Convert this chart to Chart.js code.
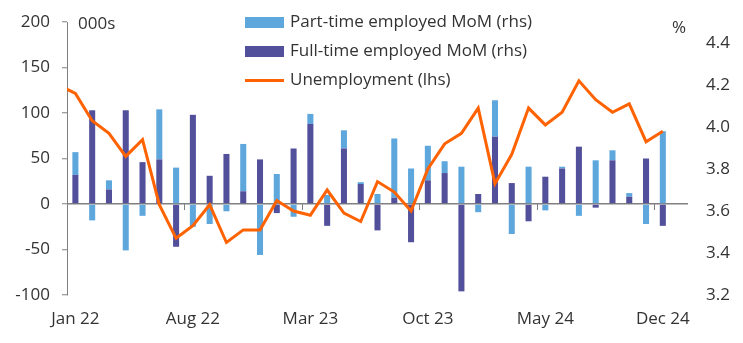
<!DOCTYPE html>
<html>
<head>
<meta charset="utf-8">
<script src="https://cdn.jsdelivr.net/npm/chart.js@4/dist/chart.umd.min.js"></script>
<style>
  html, body { margin: 0; padding: 0; background: #fff; }
  #wrap { position: relative; width: 743px; height: 343px; font-family: "Open Sans", sans-serif; color: #333; }
  canvas { position: absolute; left: 0; top: 0; }
  .t { position: absolute; font-size: 17px; line-height: 20px; white-space: nowrap; }
  .box { position: absolute; width: 39px; height: 11px; }
  .ln { position: absolute; width: 39px; height: 3px; }
</style>
</head>
<body>
<div id="wrap">
  <canvas id="c" width="743" height="343"></canvas>
  <div class="t" style="left:78px; top:13px;">000s</div>
  <div class="t" style="left:672px; top:17px;">%</div>
  <div class="box" style="left:245px; top:17px; background:#5EA7DD;"></div>
  <div class="t" style="left:290px; top:11px;">Part-time employed MoM (rhs)</div>
  <div class="box" style="left:245px; top:46px; background:#524F9B;"></div>
  <div class="t" style="left:290px; top:40px;">Full-time employed MoM (rhs)</div>
  <div class="ln" style="left:245px; top:79px; background:#FF6200;"></div>
  <div class="t" style="left:290px; top:69px;">Unemployment (lhs)</div>
</div>
<script>
// Categories (Dec 21 is a lead-in point for the line only; Jan 25 is an empty slot)
const months = ['Dec 21',
  'Jan 22','Feb 22','Mar 22','Apr 22','May 22','Jun 22','Jul 22','Aug 22','Sep 22','Oct 22','Nov 22','Dec 22',
  'Jan 23','Feb 23','Mar 23','Apr 23','May 23','Jun 23','Jul 23','Aug 23','Sep 23','Oct 23','Nov 23','Dec 23',
  'Jan 24','Feb 24','Mar 24','Apr 24','May 24','Jun 24','Jul 24','Aug 24','Sep 24','Oct 24','Nov 24','Dec 24',
  'Jan 25'];

// Part-time employed MoM (000s)
const partTime = [null,
  25, -18, 10, -51, -13, 55, 40, -25, -22, -8, 52, -56,
  33, -14, 11, 10, 20, 2, 11, 65, 39, 38, 13, 41,
  -9, 40, -33, 41, -7, 2, -13, 48, 11, 4, -22, 80,
  null];

// Full-time employed MoM (000s)
const fullTime = [null,
  32, 103, 16, 103, 46, 49, -47, 98, 31, 55, 14, 49,
  -10, 61, 88, -24, 61, 22, -29, 7, -42, 26, 34, -96,
  11, 74, 23, -19, 30, 39, 63, -4, 48, 8, 50, -24,
  null];

// Unemployment rate (%)
const unemployment = [4.2,
  4.16, 4.03, 3.97, 3.86, 3.94, 3.63, 3.47, 3.53, 3.63, 3.45, 3.51, 3.51,
  3.65, 3.60, 3.58, 3.70, 3.59, 3.55, 3.74, 3.69, 3.60, 3.80, 3.92, 3.97,
  4.09, 3.73, 3.87, 4.09, 4.01, 4.07, 4.22, 4.13, 4.07, 4.11, 3.93, 3.98,
  null];

// Tick labels
const leftTicks = [-100, -50, 0, 50, 100, 150, 200];
const rightTicks = [3.2, 3.4, 3.6, 3.8, 4.0, 4.2, 4.4];
const xLabelEvery = 7;

const GREY = '#808080';
const TEXT = '#333333';

const xTickMarks = {
  id: 'xTickMarks',
  afterDatasetsDraw(chart) {
    const xs = chart.scales.x, ys = chart.scales.y;
    const y0 = ys.getPixelForValue(0);
    const ctx = chart.ctx;
    ctx.save();
    ctx.strokeStyle = GREY;
    ctx.lineWidth = 1;
    for (let i = xs.min + 1; i <= xs.max; i++) {
      if ((i - xs.min) % xLabelEvery === 0) {
        const px = Math.round((xs.getPixelForValue(i - 1) + xs.getPixelForValue(i)) / 2) + 0.5;
        ctx.beginPath();
        ctx.moveTo(px, y0);
        ctx.lineTo(px, y0 + 6);
        ctx.stroke();
      }
    }
    ctx.restore();
  }
};

Chart.defaults.font.family = '"Open Sans", sans-serif';
Chart.defaults.font.size = 17;
Chart.defaults.color = TEXT;

new Chart(document.getElementById('c'), {
  type: 'bar',
  data: {
    labels: months,
    datasets: [
      {
        type: 'line',
        label: 'Unemployment (lhs)',
        data: unemployment,
        yAxisID: 'y1',
        borderColor: '#FF6200',
        backgroundColor: '#FF6200',
        borderWidth: 3,
        pointRadius: 0,
        tension: 0,
        clip: 0
      },
      {
        label: 'Full-time employed MoM (rhs)',
        data: fullTime,
        yAxisID: 'y',
        stack: 'emp',
        backgroundColor: '#524F9B',
        categoryPercentage: 1,
        barPercentage: 0.36
      },
      {
        label: 'Part-time employed MoM (rhs)',
        data: partTime,
        yAxisID: 'y',
        stack: 'emp',
        backgroundColor: '#5EA7DD',
        categoryPercentage: 1,
        barPercentage: 0.36
      }
    ]
  },
  options: {
    responsive: false,
    animation: false,
    devicePixelRatio: 1,
    layout: { padding: { top: 22, left: 0, right: 0, bottom: 0 } },
    plugins: { legend: { display: false }, tooltip: { enabled: false } },
    scales: {
      x: {
        stacked: true,
        min: 'Jan 22',
        max: 'Jan 25',
        offset: true,
        grid: { display: false, drawTicks: false },
        border: { display: false },
        ticks: {
          autoSkip: false,
          maxRotation: 0,
          padding: 14,
          callback: function (value) {
            return (value - 1) % xLabelEvery === 0 ? this.getLabelForValue(value) : '';
          }
        },
        afterFit: (s) => { s.height = 48; s.paddingLeft = 0; s.paddingRight = 0; }
      },
      y: {
        position: 'left',
        stacked: true,
        min: -100,
        max: 200,
        afterBuildTicks: (s) => { s.ticks = leftTicks.map(v => ({ value: v })); },
        grid: {
          drawOnChartArea: true,
          color: (c) => (c.tick && c.tick.value === 0) ? GREY : 'rgba(0,0,0,0)',
          lineWidth: 1.5,
          tickColor: GREY,
          tickWidth: 1,
          tickLength: 5
        },
        border: { display: true, color: GREY, width: 1 },
        ticks: { padding: 12 },
        afterFit: (s) => { s.width = 67; s.paddingTop = 0; s.paddingBottom = 0; }
      },
      y1: {
        position: 'right',
        min: 3.2,
        max: 4.5,
        afterBuildTicks: (s) => { s.ticks = rightTicks.map(v => ({ value: v })); },
        grid: { display: false, drawTicks: false },
        border: { display: false },
        ticks: { padding: 18, callback: (v) => Number(v).toFixed(1) },
        afterFit: (s) => { s.width = 55; s.paddingTop = 0; s.paddingBottom = 0; }
      }
    }
  },
  plugins: [xTickMarks]
});
</script>
</body>
</html>
